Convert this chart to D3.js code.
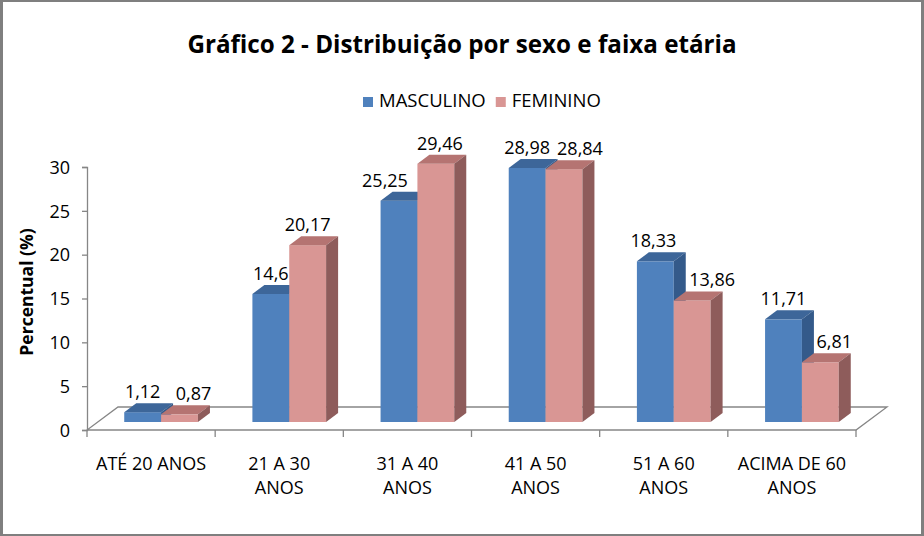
<!DOCTYPE html>
<html>
<head>
<meta charset="utf-8">
<script src="https://cdn.jsdelivr.net/npm/d3@7"></script>
<style>
  html, body { margin: 0; padding: 0; background: #fff; }
  svg { display: block; }
  text { font-family: "Open Sans", "Noto Sans", sans-serif; fill: #000; }
</style>
</head>
<body>
<svg id="chart" width="924" height="536"></svg>
<script>
// ---- data ----
const categories = [["ATÉ 20 ANOS"], ["21 A 30", "ANOS"], ["31 A 40", "ANOS"], ["41 A 50", "ANOS"], ["51 A 60", "ANOS"], ["ACIMA DE 60", "ANOS"]];
const seriesNames = ["MASCULINO", "FEMININO"];
const masculino = [1.12, 14.6, 25.25, 28.98, 18.33, 11.71];
const feminino = [0.87, 20.17, 29.46, 28.84, 13.86, 6.81];
const yTicks = [0, 5, 10, 15, 20, 25, 30];
const title = "Gráfico 2 - Distribuição por sexo e faixa etária";
const yTitle = "Percentual (%)";

// ---- layout / style ----
const labelNudge = [[0, 0, -14, 0, -2, 0], [14, 0, 4, 16, 20, 14]];
const colors = [
  { front: "#4F81BD", top: "#3D6699", side: "#345A8A" },
  { front: "#D99694", top: "#B57472", side: "#8E5C5B" }
];
const fmt = v => String(v).replace(".", ",");

const svg = d3.select("#chart");
const W = 924, H = 536;

// border
svg.append("rect").attr("x", 0).attr("y", 0).attr("width", W).attr("height", H).attr("fill", "#fff");
svg.append("rect").attr("x", 0).attr("y", 0).attr("width", 3).attr("height", H).attr("fill", "#7f7f7f");
svg.append("rect").attr("x", 0).attr("y", 0).attr("width", W).attr("height", 2).attr("fill", "#7f7f7f");
svg.append("rect").attr("x", W - 3).attr("y", 0).attr("width", 3).attr("height", H).attr("fill", "#7f7f7f");
svg.append("rect").attr("x", 0).attr("y", H - 2).attr("width", W).attr("height", 2).attr("fill", "#7f7f7f");

const plotL = 87, plotR = 856, plotB = 430, plotT = 167;
const floorDx = 31, floorDy = -23;
const barOffX = 10, barOffY = -8;
const depthX = 12, depthY = -9;

const x = d3.scaleBand().domain(d3.range(categories.length)).range([plotL, plotR]).paddingInner(0).paddingOuter(0);
const y = d3.scaleLinear().domain([0, 30]).range([plotB, plotT]);
const series = d3.scaleBand().domain([0, 1]).range([0, x.bandwidth() * 0.575]);
const bw = series.bandwidth();

const axisColor = "#868686";

// floor
const floor = [[plotL, plotB], [plotR, plotB], [plotR + floorDx, plotB + floorDy], [plotL + floorDx, plotB + floorDy]];
svg.append("path").attr("d", d3.line()(floor) + "Z").attr("fill", "none").attr("stroke", axisColor).attr("stroke-width", 1.3);

// y axis
const yAxis = d3.axisLeft(y).tickValues(yTicks).tickSize(5).tickPadding(12).tickFormat(d => d);
const gy = svg.append("g").attr("transform", `translate(${plotL},0)`).call(yAxis);
gy.select(".domain").attr("stroke", axisColor).attr("stroke-width", 1.3);
gy.selectAll(".tick line").attr("stroke", axisColor).attr("stroke-width", 1.3);
gy.selectAll(".tick text").attr("font-size", 18).attr("font-family", "Open Sans").attr("fill", "#000").attr("dy", "0.35em");

// x axis ticks
const xb = d3.range(categories.length + 1).map(i => i === categories.length ? plotR : x(i));
svg.append("g").selectAll("line").data(xb).join("line")
  .attr("x1", d => d).attr("x2", d => d).attr("y1", plotB).attr("y2", plotB + 7)
  .attr("stroke", axisColor).attr("stroke-width", 1.3);

// x labels
const xl = svg.append("g");
categories.forEach((lines, i) => {
  const cx = x(i) + x.bandwidth() / 2;
  lines.forEach((t, j) => {
    xl.append("text").attr("x", cx).attr("y", 470 + j * 24).attr("text-anchor", "middle")
      .attr("font-size", 18).text(t);
  });
});

// bars
const data = [masculino, feminino];
const y0 = y(0) + barOffY;
const gb = svg.append("g");
categories.forEach((c, i) => {
  const gx = x(i) + x.bandwidth() / 2 + barOffX - bw;
  [0, 1].forEach(s => {
    const v = data[s][i];
    const x0 = gx + series(s), x1 = x0 + bw;
    const yt = y(v) + barOffY;
    const col = colors[s];
    gb.append("rect").attr("x", x0).attr("y", yt).attr("width", bw).attr("height", y0 - yt).attr("fill", col.front);
    gb.append("path").attr("d", d3.line()([[x0, yt], [x0 + depthX, yt + depthY], [x1 + depthX, yt + depthY], [x1, yt]]) + "Z")
      .attr("fill", col.top);
    gb.append("path").attr("d", d3.line()([[x1, yt], [x1 + depthX, yt + depthY], [x1 + depthX, y0 + depthY], [x1, y0]]) + "Z")
      .attr("fill", col.side);
  });
});

// data labels
const gl = svg.append("g");
categories.forEach((c, i) => {
  const gx = x(i) + x.bandwidth() / 2 + barOffX - bw;
  [0, 1].forEach(s => {
    const v = data[s][i];
    const cx = gx + series(s) + bw / 2 + labelNudge[s][i];
    gl.append("text").attr("x", cx).attr("y", y(v) + barOffY - 14).attr("text-anchor", "middle")
      .attr("font-size", 18).text(fmt(v));
  });
});

// title
svg.append("text").attr("x", 462).attr("y", 53).attr("text-anchor", "middle")
  .attr("font-size", 24.2).attr("font-weight", "bold").text(title);

// y title
svg.append("text").attr("transform", "translate(33,292) rotate(-90)").attr("text-anchor", "middle")
  .attr("font-size", 17.5).attr("font-weight", "bold").text(yTitle);

// legend
const lg = svg.append("g");
let lx = 363;
seriesNames.forEach((n, s) => {
  lg.append("rect").attr("x", lx).attr("y", 97).attr("width", 10).attr("height", 10).attr("fill", colors[s].front);
  const t = lg.append("text").attr("x", lx + 16).attr("y", 107).attr("font-size", 18.5).text(n);
  lx = lx + 16 + t.node().getComputedTextLength() + 10;
});
</script>
</body>
</html>
